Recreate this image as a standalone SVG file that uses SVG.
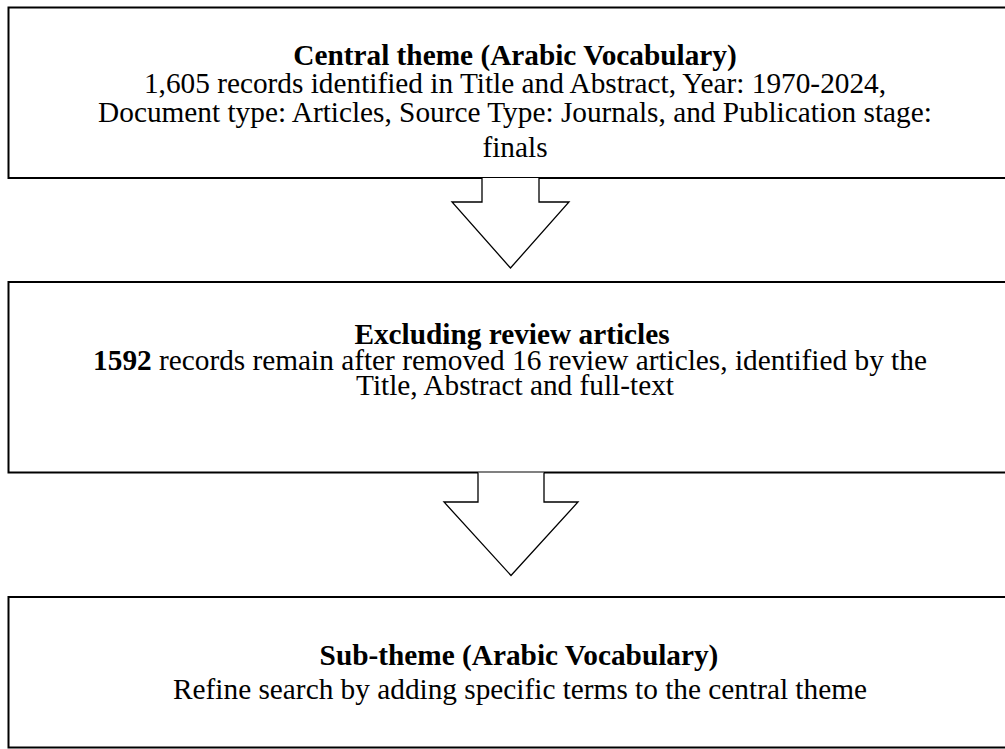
<svg xmlns="http://www.w3.org/2000/svg" width="1005" height="749" viewBox="0 0 1005 749">
<style>
.box{fill:#fff;stroke:#000;stroke-width:2}
.arrow{fill:#fff;stroke:#000;stroke-width:1.3;stroke-linejoin:miter}
text{font-family:"Liberation Serif","Times New Roman",serif;font-size:29.3px;fill:#000;text-anchor:middle}
.b{font-weight:bold}
</style>
<rect width="1005" height="749" fill="#fff"/>
<g id="node-central">
<rect class="box" x="8.5" y="7.5" width="1010" height="170.5"/>
<text x="515" y="64.5" class="b">Central theme (Arabic Vocabulary)</text>
<text x="515" y="93">1,605 records identified in Title and Abstract, Year: 1970-2024,</text>
<text x="515" y="122">Document type: Articles, Source Type: Journals, and Publication stage:</text>
<text x="515" y="157">finals</text>
</g>
<g id="node-excluding">
<rect class="box" x="8.5" y="282" width="1010" height="190.5"/>
<text x="512" y="343.5" class="b">Excluding review articles</text>
<text x="510" y="369.5"><tspan class="b">1592</tspan> records remain after removed 16 review articles, identified by the</text>
<text x="515" y="395">Title, Abstract and full-text</text>
</g>
<g id="node-subtheme">
<rect class="box" x="8.5" y="597" width="1010" height="150.5"/>
<text x="519" y="664.5" class="b">Sub-theme (Arabic Vocabulary)</text>
<text x="520" y="698.5">Refine search by adding specific terms to the central theme</text>
</g>
<g id="connectors">
<path class="arrow" d="M482,178 V202 H452 L510.5,268 L569,202 H539 V178"/>
<path class="arrow" d="M478,472.5 V502 H444 L511,575.5 L578,502 H544 V472.5"/>
</g>
</svg>
